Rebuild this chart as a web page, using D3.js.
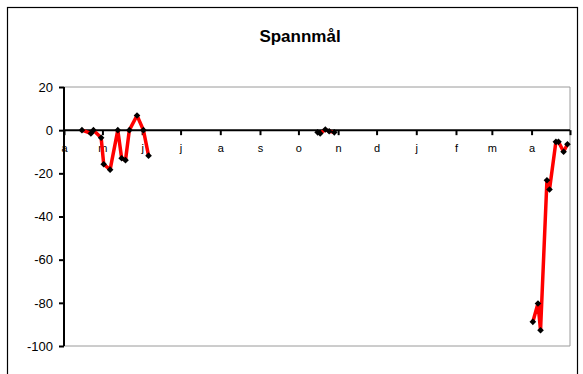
<!DOCTYPE html>
<html>
<head>
<meta charset="utf-8">
<script src="https://cdn.jsdelivr.net/npm/d3@7"></script>
<style>
  html, body { margin: 0; padding: 0; background: #fff; }
  svg { display: block; font-family: "Liberation Sans", Arial, sans-serif; }
</style>
</head>
<body>
<svg id="chart" width="583" height="374"></svg>
<script>
// Weekly observations; null marks a break in the line
const dates = [
  "2006-04-15", "2006-04-22", "2006-04-24", "2006-04-30", "2006-05-02", "2006-05-07",
  "2006-05-13", "2006-05-16", "2006-05-19", "2006-05-22", "2006-05-28", "2006-06-02",
  "2006-06-06",
  "2006-07-01",
  "2006-10-16", "2006-10-18", "2006-10-22", "2006-10-25", "2006-10-29",
  "2006-12-01",
  "2007-04-02", "2007-04-06", "2007-04-08", "2007-04-13", "2007-04-15", "2007-04-20",
  "2007-04-22", "2007-04-26", "2007-04-29"
];
const values = [
  0, -1.5, 0, -3.5, -15.8, -18.3,
  0, -13, -13.9, 0, 6.8, 0,
  -11.8,
  null,
  -1, -1.5, 0.3, -0.5, -1,
  null,
  -88.8, -80.3, -92.7, -23.2, -27.5, -5.4,
  -5.4, -10, -6.5
];
const monthLabels = ["a", "m", "j", "j", "a", "s", "o", "n", "d", "j", "f", "m", "a"];
const yTicks = [20, 0, -20, -40, -60, -80, -100];
const title = "Spannmål";

const parse = d3.timeParse("%Y-%m-%d");
const data = dates.map((d, i) => ({ date: parse(d), value: values[i] }));

const svg = d3.select("#chart");
const plotLeft = 64, plotRight = 570, plotTop = 87, plotBottom = 346;

const x = d3.scaleTime()
  .domain([parse("2006-04-01"), parse("2007-05-01")])
  .range([plotLeft, plotRight]);
const y = d3.scaleLinear().domain([-100, 20]).range([plotBottom, plotTop]);

// outer chart frame
svg.append("rect")
  .attr("x", 7.5).attr("y", 7.5).attr("width", 570).attr("height", 400)
  .attr("fill", "#fff").attr("stroke", "#000").attr("stroke-width", 1.2);

// title
svg.append("text")
  .attr("x", 300).attr("y", 42)
  .attr("text-anchor", "middle")
  .attr("font-size", 17).attr("font-weight", "bold")
  .text(title);

// plot area border (grey)
svg.append("path")
  .attr("d", `M${plotLeft},${plotTop}H${plotRight}V${plotBottom}H${plotLeft}`)
  .attr("fill", "none").attr("stroke", "#9a9a9a").attr("stroke-width", 1);

// y axis
const yAxis = svg.append("g")
  .attr("transform", `translate(${plotLeft},0)`)
  .call(d3.axisLeft(y).tickValues(yTicks).tickSize(5).tickPadding(6).tickFormat(d => String(d)));
yAxis.select(".domain").attr("stroke", "#000").attr("stroke-width", 2)
  .attr("d", `M0,${plotTop}V${plotBottom}`);
yAxis.selectAll(".tick line").attr("stroke", "#000").attr("stroke-width", 2);
yAxis.selectAll(".tick text")
  .attr("font-size", 13).attr("font-family", "Liberation Sans, Arial, sans-serif").attr("fill", "#000");

// x axis at zero
const months = d3.timeMonth.range(parse("2006-04-01"), parse("2007-05-02"));
const xAxis = svg.append("g")
  .attr("transform", `translate(0,${y(0)})`)
  .call(d3.axisBottom(x).tickValues(months).tickSize(5).tickPadding(9)
    .tickFormat((d, i) => monthLabels[i] !== undefined ? monthLabels[i] : ""));
xAxis.select(".domain").attr("stroke", "#000").attr("stroke-width", 2)
  .attr("d", `M${plotLeft},0H${plotRight}`);
xAxis.selectAll(".tick line").attr("stroke", "#000").attr("stroke-width", 2);
xAxis.selectAll(".tick text")
  .attr("font-size", 11).attr("font-family", "Liberation Sans, Arial, sans-serif").attr("fill", "#000");

// series line
const line = d3.line()
  .defined(d => d.value !== null)
  .x(d => x(d.date))
  .y(d => y(d.value));
svg.append("path")
  .datum(data)
  .attr("d", line)
  .attr("fill", "none")
  .attr("stroke", "#ff0000")
  .attr("stroke-width", 3.5)
  .attr("stroke-linejoin", "round");

// diamond markers (squares turned 45°)
const diamond = d3.symbol().type(d3.symbolSquare).size(22);
svg.append("g").selectAll("path")
  .data(data.filter(d => d.value !== null))
  .join("path")
  .attr("transform", d => `translate(${x(d.date)},${y(d.value)}) rotate(45)`)
  .attr("d", diamond)
  .attr("fill", "#000");
</script>
</body>
</html>
